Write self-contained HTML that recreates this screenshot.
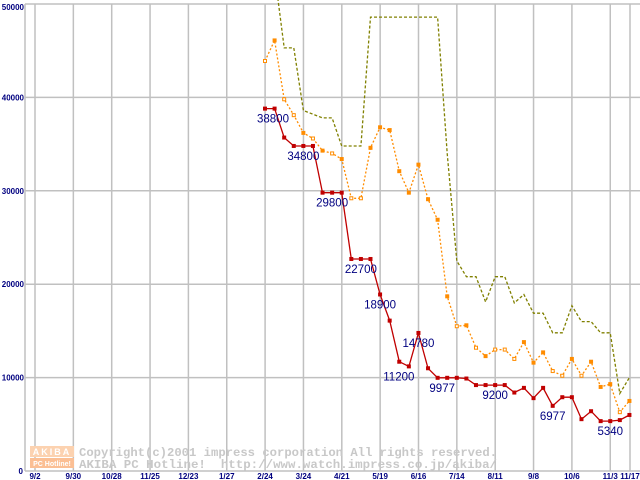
<!DOCTYPE html>
<html><head><meta charset="utf-8"><style>
body{margin:0;background:#fff;width:640px;height:480px;overflow:hidden}
svg{display:block}
</style></head><body>
<svg id="chart" width="640" height="480" xmlns="http://www.w3.org/2000/svg" font-family="Liberation Sans, sans-serif">
<g id="grid"></g>
<g id="wm">
<rect x="30" y="446" width="44" height="11" fill="#fcd2b0"/>
<rect x="30" y="458" width="44" height="10" fill="#fbbf94"/>
<text x="52" y="455" font-size="9" font-weight="bold" fill="#fff" text-anchor="middle" letter-spacing="2">AKIBA</text>
<text x="52" y="466" font-size="7" font-weight="bold" fill="#fff" text-anchor="middle">PC Hotline!</text>
<text x="79" y="456" font-size="12" font-family="Liberation Mono, monospace" font-weight="bold" fill="#c8c8c8" textLength="418" lengthAdjust="spacingAndGlyphs">Copyright(c)2001 impress corporation All rights reserved.</text>
<text x="79" y="468" font-size="12" font-family="Liberation Mono, monospace" font-weight="bold" fill="#c8c8c8" textLength="418" lengthAdjust="spacingAndGlyphs" xml:space="preserve">AKIBA PC Hotline!  http://www.watch.impress.co.jp/akiba/</text>
</g>
<g id="plot"></g>
</svg>
<script>
const xLabels=["9/2","9/30","10/28","11/25","12/23","1/27","2/24","3/24","4/21","5/19","6/16","7/14","8/11","9/8","10/6","11/3","11/17"];
const yTicks=[0,10000,20000,30000,40000,50000];
const redSeries=[38800,38800,35700,34800,34800,34800,29800,29800,29800,22700,22700,22700,18900,16100,11700,11200,14780,11000,9977,9977,9977,9900,9200,9200,9200,9200,8400,8900,7800,8900,6977,7900,7900,5550,6400,5340,5340,5450,6000];
const orangeSeries=[43900,46100,39800,38100,36200,35600,34300,34000,33400,29200,29200,34600,36800,36500,32100,29800,32800,29100,26900,18700,15500,15600,13200,12300,13000,13000,12000,13800,11600,12700,10700,10200,12000,10200,11700,9000,9300,6300,7500];
const oliveSeries=[null,53300,45300,45300,38600,38200,37800,37800,34800,34800,34800,48600,48600,48600,48600,48600,48600,48600,48600,34000,22500,20800,20800,18100,20800,20800,18000,18900,16900,16900,14800,14800,17700,16000,16000,14800,14800,8300,10000];
const labelIdx=[0,4,7,10,12,16,15,19,24,30,36];
const labelText=["38800","34800","29800","22700","18900","14780","11200","9977","9200","6977","5340"];
const NS="http://www.w3.org/2000/svg";
const yS=v=>471-v*0.00934;
const xG=i=>35+i*38.35;
const xW=i=>265+i*9.59;
function mk(p,t,a){const e=document.createElementNS(NS,t);for(const k in a)e.setAttribute(k,a[k]);p.appendChild(e);return e;}
const grid=document.getElementById('grid'),plot=document.getElementById('plot');
yTicks.forEach(v=>{
 const l=mk(grid,'line',{x1:25,x2:640,y1:yS(v),y2:yS(v),stroke:'#c0c0c0','stroke-width':1.5});
 
 
 const t=mk(grid,'text',{x:v===0?23:24,y:yS(v)+(v===50000?6:3),'font-size':8,'font-weight':'bold','text-anchor':'end',fill:'#000080'});
 t.textContent=v;
 
 
});
mk(grid,'line',{x1:25,x2:25,y1:4,y2:471,stroke:'#c0c0c0','stroke-width':1.5});
xLabels.forEach((s,i)=>{
 const x=i<16?xG(i):630;
 const l=mk(grid,'line',{x1:x,x2:x,y1:4,y2:471,stroke:'#c0c0c0','stroke-width':1.5});
 
 
 const t=mk(grid,'text',{x:x,y:479,'font-size':8,'font-weight':'bold','text-anchor':'middle',fill:'#000080'});
 t.textContent=s;
 
 
});
function series(data,color,dash,name,marker,hollow){
 let d='';data.forEach((v,i)=>{if(v==null)return;const y=Math.max(yS(v),-40);d+=(d?'L':'M')+xW(i).toFixed(1)+','+y.toFixed(1);});
 const g=mk(plot,'g',{});
 
 
 const p=mk(g,'path',{d:d,fill:'none',stroke:color,'stroke-width':1.3,'stroke-dasharray':dash});
 
 
 if(marker)data.forEach((v,i)=>{if(v==null)return;const h=hollow&&hollow(i);
  const r=mk(g,'rect',{x:xW(i)-1.5,y:yS(v)-1.5,width:3,height:3,fill:h?'#fff':color,stroke:color,'stroke-width':1});
  
  });
}
series(oliveSeries,'#808000','3,2','olive-series',false);
series(orangeSeries,'#ff8c00','2,2','orange-series',true,i=>[0,2,3,5,7,9,10,20,22,24,25,26,30,31,33,37].includes(i));
series(redSeries,'#c00000','none','red-series',true);
labelIdx.forEach((idx,k)=>{
 const t=mk(plot,'text',{x:xW(idx)+(k===0?8:k===7?-5:k===6?-10:0),y:yS(redSeries[idx])+14,'font-size':11.5,'text-anchor':'middle',fill:'#000080'});
 t.textContent=labelText[k];
 
 
});
</script>
</body></html>
